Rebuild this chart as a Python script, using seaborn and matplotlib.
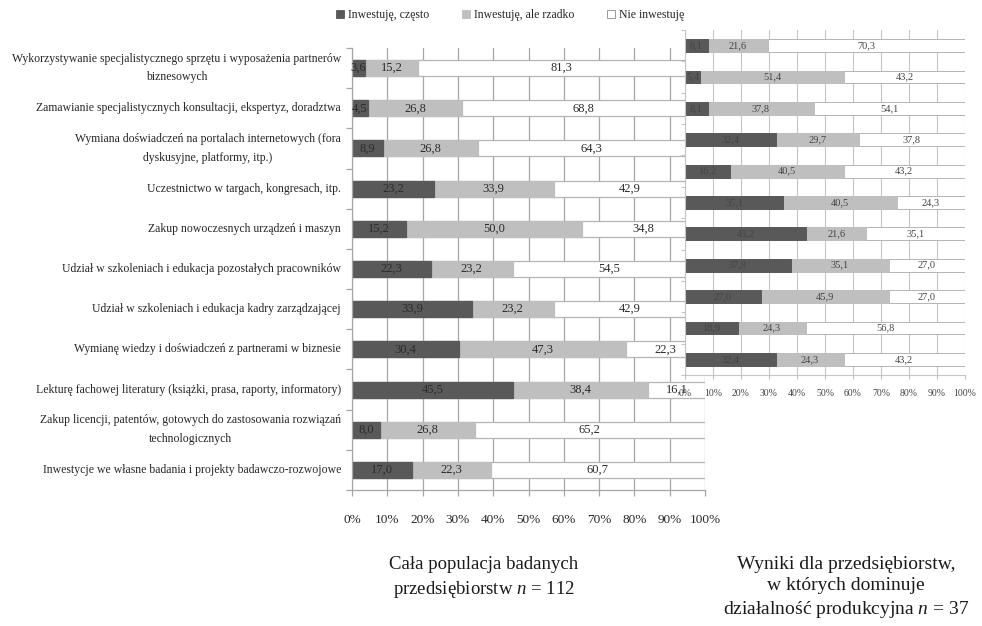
import matplotlib
matplotlib.use("Agg")
import matplotlib.pyplot as plt
from matplotlib.patches import Patch
from matplotlib.ticker import FixedLocator, PercentFormatter
import numpy as np
import seaborn as sns

# Forms of investment in knowledge (row order, top to bottom)
categories = [
    "Wykorzystywanie specjalistycznego sprzętu i wyposażenia partnerów\nbiznesowych",
    "Zamawianie specjalistycznych konsultacji, ekspertyz, doradztwa",
    "Wymiana doświadczeń na portalach internetowych (fora\ndyskusyjne, platformy, itp.)",
    "Uczestnictwo w targach, kongresach, itp.",
    "Zakup nowoczesnych urządzeń i maszyn",
    "Udział w szkoleniach i edukacja pozostałych pracowników",
    "Udział w szkoleniach i edukacja kadry zarządzającej",
    "Wymianę wiedzy i doświadczeń z partnerami w biznesie",
    "Lekturę fachowej literatury (książki, prasa, raporty, informatory)",
    "Zakup licencji, patentów, gotowych do zastosowania rozwiązań\ntechnologicznych",
    "Inwestycje we własne badania i projekty badawczo-rozwojowe",
]
series_names = ["Inwestuję, często", "Inwestuję, ale rzadko", "Nie inwestuję"]

# Whole sample, n = 112 (%)
often_all = [3.6, 4.5, 8.9, 23.2, 15.2, 22.3, 33.9, 30.4, 45.5, 8.0, 17.0]
rarely_all = [15.2, 26.8, 26.8, 33.9, 50.0, 23.2, 23.2, 47.3, 38.4, 26.8, 22.3]
never_all = [81.3, 68.8, 64.3, 42.9, 34.8, 54.5, 42.9, 22.3, 16.1, 65.2, 60.7]

# Production-dominated firms, n = 37 (%)
often_prod = [8.1, 5.4, 8.1, 32.4, 16.2, 35.1, 43.2, 37.8, 27.0, 18.9, 32.4]
rarely_prod = [21.6, 51.4, 37.8, 29.7, 40.5, 40.5, 21.6, 35.1, 45.9, 24.3, 24.3]
never_prod = [70.3, 43.2, 54.1, 37.8, 43.2, 24.3, 35.1, 27.0, 27.0, 56.8, 43.2]

x_ticks = list(range(0, 101, 10))

DARK = "#595959"
LIGHT = "#bfbfbf"
WHITE = "#ffffff"
EDGE = "#b4b4b4"
GRID = "#a6a6a6"
GRID_R = "#c4c4c4"

sns.set_theme(style="white")
plt.rcParams["font.family"] = ["Liberation Serif", "DejaVu Serif"]
plt.rcParams["mathtext.fontset"] = "custom"
plt.rcParams["mathtext.rm"] = "Liberation Serif"
plt.rcParams["mathtext.it"] = "Liberation Serif:italic"

W, H = 982, 626
fig = plt.figure(figsize=(W / 100, H / 100), dpi=100)
fig.patch.set_facecolor("white")


def px_axes(left, top, right, bottom):
    return fig.add_axes([left / W, 1 - bottom / H, (right - left) / W, (bottom - top) / H])


ax_l = px_axes(352, 48, 705, 490)
ax_r = px_axes(685, 30, 965, 375)
ax_r.set_zorder(3)
ax_r.set_facecolor("white")


def fmt(v):
    return f"{v:.1f}".replace(".", ",")


def stacked(ax, often, rarely, never, bar_w, lw, lab_size, lab_color):
    often = np.asarray(often)
    rarely = np.asarray(rarely)
    never = np.asarray(never)
    c1 = often
    c2 = often + rarely
    c3 = c2 + never
    # cumulative totals drawn back to front give the stacked look
    for vals, col, ec in ((c3, WHITE, EDGE), (c2, LIGHT, LIGHT), (c1, DARK, DARK)):
        sns.barplot(x=vals, y=categories, orient="y", color=col, saturation=1,
                    width=bar_w, edgecolor=ec, linewidth=lw, ax=ax, zorder=2)
    for i in range(len(categories)):
        for start, val in ((0, often[i]), (c1[i], rarely[i]), (c2[i], never[i])):
            ax.text(start + val / 2, i, fmt(val), ha="center", va="center",
                    fontsize=lab_size, color=lab_color, zorder=4)
    ax.set_xlim(0, 100)
    ax.set_xlabel("")
    ax.set_ylabel("")
    ax.set_axisbelow(True)
    ax.xaxis.set_major_locator(FixedLocator(x_ticks))
    ax.xaxis.set_major_formatter(PercentFormatter(decimals=0))
    ax.yaxis.set_minor_locator(FixedLocator(np.arange(-0.5, len(categories), 1.0)))
    for s in ("top", "right"):
        ax.spines[s].set_visible(False)


stacked(ax_l, often_all, rarely_all, never_all, 0.4, 0.9, 9, "#2b2b2b")
stacked(ax_r, often_prod, rarely_prod, never_prod, 0.41, 0.7, 7.5, "#444444")

# left panel styling
ax_l.xaxis.grid(True, color=GRID, linewidth=0.9)
for s in ("left", "bottom"):
    ax_l.spines[s].set_color(GRID)
    ax_l.spines[s].set_linewidth(0.9)
ax_l.tick_params(axis="x", bottom=True, length=4, width=0.9, color=GRID,
                 pad=13, labelsize=9.5, labelcolor="#262626")
ax_l.tick_params(axis="y", which="major", left=False, length=0, pad=8,
                 labelsize=8.5, labelcolor="#262626")
ax_l.tick_params(axis="y", which="minor", left=True, length=4, width=0.9, color=GRID)
for t in ax_l.get_yticklabels():
    t.set_multialignment("center")
    t.set_verticalalignment("center")
    t.set_linespacing(1.75)

# right panel styling
ax_r.xaxis.grid(True, color=GRID_R, linewidth=0.8)
for s in ("left", "bottom"):
    ax_r.spines[s].set_color(GRID_R)
    ax_r.spines[s].set_linewidth(0.8)
ax_r.set_yticks([])
ax_r.yaxis.set_minor_locator(FixedLocator(np.arange(-0.5, len(categories), 1.0)))
ax_r.tick_params(axis="x", bottom=True, length=3, width=0.8, color=GRID_R,
                 pad=7, labelsize=7, labelcolor="#444444")
ax_r.tick_params(axis="y", which="minor", left=True, length=3, width=0.8, color=GRID_R)

# legend
handles = [Patch(facecolor=DARK, edgecolor=DARK, linewidth=0.6),
           Patch(facecolor=LIGHT, edgecolor=LIGHT, linewidth=0.6),
           Patch(facecolor=WHITE, edgecolor="#8c8c8c", linewidth=0.6)]
fig.legend(handles, series_names, loc="center", bbox_to_anchor=(510 / W, 1 - 15 / H),
           ncol=3, frameon=False, fontsize=8.5, handlelength=0.7, handleheight=0.7,
           handletextpad=0.3, columnspacing=2.8, labelcolor="#262626")

# captions below the panels
fig.text(484 / W, 1 - 578 / H, "Cała populacja badanych\nprzedsiębiorstw $n$ = 112",
         ha="center", va="center", fontsize=13.5, linespacing=1.45, color="#1a1a1a")
fig.text(846 / W, 1 - 588 / H,
         "Wyniki dla przedsiębiorstw,\nw których dominuje\ndziałalność produkcyjna $n$ = 37",
         ha="center", va="center", fontsize=14, linespacing=1.35, color="#1a1a1a")

fig.savefig("out.png", dpi=100, facecolor="white")
